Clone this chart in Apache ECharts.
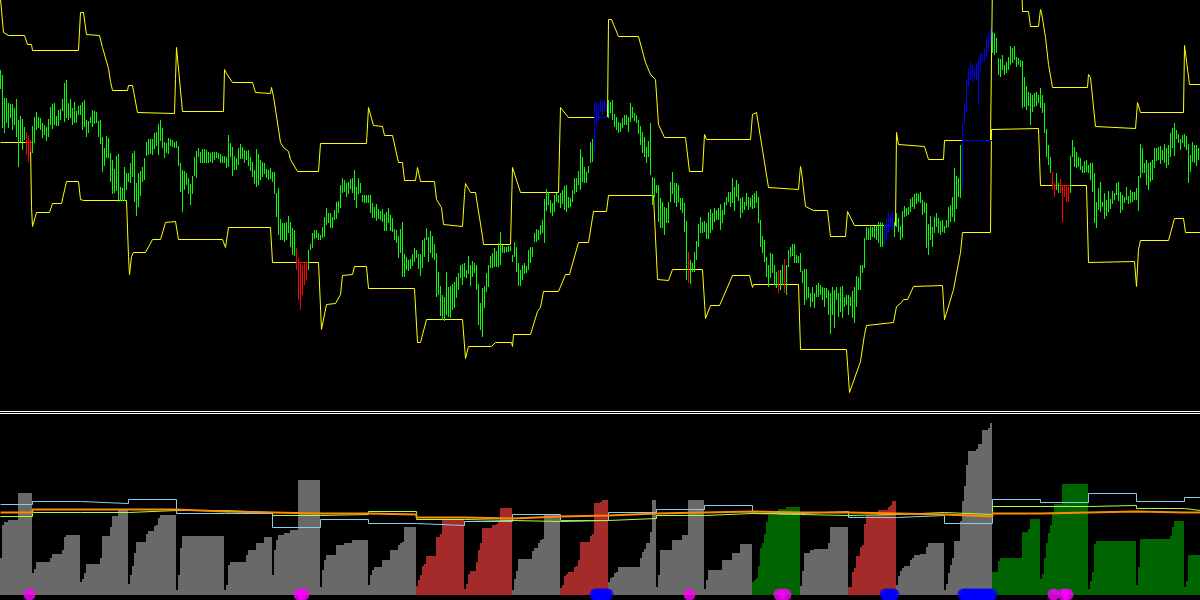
<!DOCTYPE html>
<html><head><meta charset="utf-8">
<script src="https://cdn.jsdelivr.net/npm/echarts@6.0.0/dist/echarts.min.js"></script>
<style>html,body{margin:0;padding:0;background:#000;overflow:hidden}#c{width:1200px;height:600px}</style>
</head><body><div id="c"></div>
<script>
// ---- price bars (one per hour), arbitrary price units ----
const barHigh = [
430,425,402,402,397,396,396,392,401,380, 384,381,373,368,365,360,374,383,388,383,
382,377,375,373,381,393,396,397,384,390, 391,401,417,420,397,401,392,398,389,394,
395,398,400,380,379,383,390,389,388,379, 380,363,352,364,362,347,340,331,344,346,
313,312,333,327,327,337,347,349,317,327, 329,333,342,358,361,361,361,367,368,376,
380,372,358,357,362,361,360,358,359,354, 337,330,329,327,322,316,324,343,349,352,
348,351,351,350,348,347,348,348,348,347, 346,344,344,343,365,357,353,344,342,352,
356,353,350,349,350,343,338,330,351,346, 340,338,337,331,330,332,328,328,307,312,
281,277,277,278,284,278,272,270,252,242, 238,235,237,237,250,256,267,270,270,267,
265,273,283,292,287,287,283,290,298,299, 315,322,320,317,318,321,322,330,313,322,
317,305,305,305,305,305,297,293,296,291, 289,291,286,288,292,285,282,271,270,264,
271,278,246,243,240,241,246,252,250,246, 246,260,262,272,263,269,264,256,247,228,
214,205,203,228,213,214,216,218,223,227, 235,236,237,230,244,235,239,237,235,216,
197,212,214,227,235,244,247,252,249,257, 268,255,253,253,254,254,245,258,253,237,
230,235,237,234,250,253,253,267,271,270, 275,280,301,311,308,300,297,305,307,305,
307,310,314,315,303,302,310,322,322,329, 351,343,333,328,334,358,361,398,398,396,
400,398,401,397,400,398,400,386,383,378, 377,382,385,385,383,397,393,387,385,380,
374,368,363,353,359,377,323,322,315,315, 302,298,293,292,298,318,328,317,317,315,
302,302,297,279,248,240,237,248,259,276, 283,278,279,277,288,291,287,292,290,292,
296,290,298,303,308,308,322,313,320,316, 302,303,298,307,303,302,305,307,309,303,
280,264,260,243,235,247,246,235,228,230, 230,235,241,235,250,253,256,256,245,244,
247,229,231,231,213,207,213,207,215,217, 215,213,212,212,210,207,213,210,213,207,
213,214,203,205,205,203,209,213,224,223, 235,235,262,273,272,275,273,274,275,278,
278,277,275,282,288,286,288,278,287,282, 274,289,294,292,293,301,303,306,307,306,
308,300,298,297,276,284,273,283,287,282, 279,280,274,280,293,295,303,332,324,322,
355,377,396,421,432,438,435,432,437,441, 447,446,451,463,467,472,468,467,462,442,
441,445,435,438,443,454,452,454,443,442, 440,439,423,414,408,407,405,407,408,405,
412,405,397,371,355,343,328,317,327,317, 321,314,315,315,313,344,360,353,348,343,
342,334,339,340,335,337,337,327,298,312, 318,298,307,300,309,301,309,307,317,318,
308,305,303,313,304,310,308,308,312,324, 356,352,337,340,337,338,340,352,352,353,
354,350,356,352,355,367,372,377,370,366, 361,365,366,364,356,345,358,355,355,352
];
const barLow = [
411,372,367,377,372,382,370,375,363,333, 358,350,360,345,338,348,347,357,370,372,
370,362,365,359,363,375,371,375,374,374, 380,389,378,382,380,382,375,377,377,385,
385,370,373,363,367,377,373,376,377,363, 356,328,334,342,342,318,306,307,309,298,
299,299,299,310,318,317,323,298,284,293, 304,318,320,344,345,346,345,351,354,345,
359,352,342,347,346,354,353,352,352,334, 308,288,310,315,306,295,306,324,322,343,
337,337,337,337,337,338,337,340,342,341, 337,337,337,332,333,343,324,330,330,335,
341,341,337,340,334,329,323,316,313,315, 320,323,326,322,320,321,318,306,283,265,
260,260,258,260,267,253,245,244,230,200, 190,205,215,220,230,250,252,261,262,260,
260,262,263,275,277,272,272,280,281,287, 292,307,308,303,306,311,307,300,292,306,
307,298,297,297,297,287,282,282,279,281, 280,278,269,269,277,269,268,260,257,242,
247,223,223,230,229,231,234,238,242,231, 224,232,243,260,238,247,242,240,203,205,
184,180,179,185,183,182,190,192,202,210, 222,215,223,222,226,214,223,227,210,175,
170,163,192,208,213,232,232,233,233,233, 235,247,247,248,248,249,238,243,228,214,
214,220,226,227,230,237,243,258,258,260, 265,267,257,289,295,287,284,288,298,297,
292,296,290,288,292,293,298,306,308,315, 310,318,317,317,327,337,338,348,375,380,
388,385,390,388,382,387,380,373,370,367, 368,372,375,375,368,378,382,379,377,366,
355,347,343,337,343,325,295,303,307,278, 272,272,265,277,277,298,306,297,293,298,
290,287,268,220,217,216,228,228,240,253, 267,267,268,261,261,267,270,278,280,280,
270,277,285,295,298,293,297,289,303,299, 282,287,290,294,290,293,291,292,297,277,
253,247,238,223,213,222,227,215,212,207, 210,215,207,205,233,243,244,237,237,237,
228,217,195,200,202,193,198,192,203,203, 205,200,193,202,185,166,185,172,200,183,
188,182,193,195,185,194,182,177,193,210, 210,227,232,260,260,260,263,262,260,257,
253,253,255,260,268,272,270,263,273,268, 260,262,283,284,285,288,293,291,296,298,
297,285,287,252,245,260,253,267,273,267, 265,268,267,272,273,278,283,278,291,303,
302,313,377,388,413,420,418,422,420,395, 429,438,438,443,448,455,447,445,447,425,
423,430,425,427,430,435,437,440,433,435, 433,392,393,390,394,375,388,393,394,397,
392,387,367,343,335,327,310,303,310,307, 307,278,303,298,298,307,343,333,332,333,
330,327,327,328,327,320,308,277,272,290, 288,293,281,284,288,291,296,300,305,299,
287,290,297,300,296,297,298,300,300,289, 322,327,327,315,310,318,320,332,339,340,
336,340,337,332,335,343,352,344,361,357, 350,357,353,350,317,328,338,337,334,340
];
// bars coloured as breakouts (index ranges, inclusive)
const redBarRanges = [[13,15],[148,153],[344,344],[389,389],[392,392],[526,527],[530,534]];
const blueBarRanges = [[297,303],[442,446],[481,495]];

// ---- channel lines: [bar position, price] at each turning point ----
const upperBand = [
[0,500],[1.5,467],[4,464],[12,464],[13.5,455],[15.5,455],[16,449],[39,449],[40,487],[41.5,487],[43,465],[49.5,464],
[51,452],[54,431],[55,418],[56,409],[63.5,409],[64,414],[66,414],[68.5,387],[87,386],[87.5,420],[88,452],[88.5,450],
[91,388],[111.5,388],[112,430],[113,426],[116,417],[126,417],[127.5,407],[135,406],[135.5,412],[136.5,403],[140,357],
[141.5,352],[144,348],[145,340],[148.5,328],[159,328],[160,356],[183,356],[184,392],[185,390],[186.5,374],[191,373],
[192,364],[196,364],[199,337],[201,337],[202,319],[207.5,319],[208.5,332],[210,318],[217,318],[218,300],[220.5,292],
[221.5,275],[231,273],[232,305],[232.5,316],[235,307],[237.5,307],[241,263],[241.5,255],[255,255],[256,332],[257,332],
[260,307],[279,307],[280,392],[281,392],[284,382],[303.5,382],[304,480],[305.5,480],[309,463],[319,463],[322.5,437],
[325,425],[327.5,420],[329,375],[332,362],[342.5,362],[344.5,328],[351,328],[352,365],[353,360],[375,360],[376,385],
[378,387],[384,312],[399,310],[400,333],[400.5,328],[402.5,293],[406.5,289],[413.5,289],[415,263],[422.5,263],
[423.5,288],[424,290],[427,274],[447.5,274],[448,367],[449,355],[450,353],[462,353],[464,340],[471.5,340],[472,359],
[495,359],[496,520],[510.5,520],[511,488],[514,488],[515,473],[519,473],[520,490],[520.5,487],[522.5,462],[524,435],
[526,412],[543.5,412],[544,425],[545,422],[547.5,373],[567.5,371],[568.5,397],[570,387],[591.5,387],[592,454],
[592.5,452],[594.5,415],[600,415]
];
const lowerBand = [
[0,357],[15,357],[15.5,293],[16,273],[18,287],[24.5,287],[26,296],[30.5,296],[33,318],[39,318],[40,300],[41.5,299],
[63,299],[64,243],[64.5,225],[65.5,243],[66.5,247],[72.5,247],[76,260],[80,260],[82.5,277],[87.5,278],[89,260],
[111,260],[112.5,252],[113.5,254],[114,272],[135,272],[136,237],[159,237],[160.5,170],[163,195],[167.5,196],[170,205],
[171,224],[176,225],[177,233],[183,233],[184,211],[207,211],[208.5,157],[210,157],[213,180],[231,180],[232.5,141],
[234,153],[245.5,153],[247.5,157],[255.5,157],[256,153],[256.5,165],[265,165],[268.5,188],[270,192],[271.5,208],
[279,208],[282.5,225],[284.5,225],[289,257],[294,257],[296.5,288],[303,288],[304,304],[326.5,304],[328.5,220],
[334,219],[336,230],[351,230],[352.5,181],[355,194],[359.5,194],[366,224],[374.5,224],[376,212],[376.5,215],[399,215],
[400,150],[423,150],[424.5,107],[425.5,107],[430,138],[432,165],[433,174],[446.5,177],[448,193],[450.5,197],
[451.5,200],[453.5,200],[456.5,213],[471,214],[472,180],[476.5,210],[480,247],[481,267],[495,267],[495.5,370],
[519,371],[520,314],[543,314],[544,237],[567,238],[568,213],[569,250],[570,259],[584,259],[587,281],[591.5,281],
[592.5,267],[600,267]
];
// breakout segments drawn over the channel: [from bar, to bar, price]
const blueUpperSegments = [[297,304,382],[442,447,274],[481,496,359]];
const redLowerSegments = [[12.5,16,357],[148,154,237],[526,535,314]];

// ---- lower panel: running daily range histogram ----
const histValues = [
37,70,73,73,75,75,75,75,75,102,102,102,102,102,102,102,
22,26,33,33,33,33,33,33,33,37,41,41,41,41,41,45,58,60,60,60,60,60,60,60,
13,16,22,31,31,31,31,31,31,31,37,59,59,59,59,68,79,79,79,85,85,85,85,85,
11,20,29,42,53,53,53,53,53,61,64,64,64,69,70,77,80,80,80,80,80,80,80,80,
5,20,47,59,59,59,59,59,59,59,59,59,59,59,59,59,59,59,59,59,59,59,59,59,
5,10,30,33,33,33,33,33,33,33,33,40,45,45,45,45,52,52,52,52,58,58,58,58,
20,45,55,60,60,60,62,62,62,65,65,65,65,115,115,115,115,115,115,115,115,115,115,115,
8,25,35,40,40,40,40,40,50,50,50,50,52,52,52,52,55,55,55,55,55,55,55,55,
10,20,25,28,28,28,28,35,35,35,35,45,45,45,45,50,52,53,68,68,68,68,68,68,
9,15,20,29,31,39,39,39,39,39,58,58,61,76,76,76,76,76,76,76,76,76,76,76,
6,11,21,24,24,24,33,45,52,67,67,67,67,67,70,70,71,73,87,87,87,87,87,87,
5,16,24,36,36,36,36,36,36,36,44,47,47,52,55,56,81,81,81,81,81,81,81,81,
7,10,19,21,23,23,23,28,29,35,53,53,53,53,53,59,61,92,92,92,93,95,95,95,
13,17,18,22,23,28,28,28,28,28,28,28,28,28,28,28,37,43,46,52,52,63,95,95,
8,20,45,45,45,45,45,45,55,55,55,55,55,60,60,60,95,95,95,95,95,95,95,95,
6,15,25,25,25,25,25,25,25,35,35,35,35,35,42,42,42,42,51,51,51,51,51,51,
13,15,17,29,47,52,61,73,80,80,80,80,80,86,86,86,86,88,88,88,88,88,88,88,
9,24,42,42,42,45,45,46,46,46,46,46,46,46,52,68,68,68,68,68,68,68,68,68,
8,8,23,27,39,39,48,50,71,80,80,80,80,80,80,85,85,85,85,85,88,90,94,94,
10,19,24,27,29,29,29,35,37,40,40,40,41,41,41,48,52,52,52,52,52,52,52,52,
5,11,22,30,37,54,54,54,74,94,109,130,144,144,144,144,146,151,151,165,165,165,167,172,
23,23,23,34,37,37,37,37,37,37,37,37,37,37,37,63,63,63,66,76,76,76,76,76,
16,21,37,52,62,70,82,91,91,91,91,111,111,111,111,111,111,111,111,111,111,111,111,111,
6,14,23,51,54,54,54,54,54,54,54,54,54,54,54,54,54,54,54,54,54,54,54,54,
10,28,56,56,56,56,56,56,56,56,56,56,56,56,56,56,56,59,68,74,74,74,74,74,
8,14,40,40,40,40,40,40
];
const dayStarts = [0,16,40,64,88,112,136,160,184,208,232,256,280,304,328,352,376,400,424,448,472,496,520,544,568,592];
// 0 = neutral (grey), 1 = bearish (brown), 2 = bullish (dark green)
const dayState = [0,0,0,0,0,0,0,0,0,1,1,0,1,0,0,0,2,0,1,0,0,2,2,2,2,2];
// average range levels per day
const avgRangeA = [90,93,91,95,81,81,67,75,71,69,73,80,74,82,85,89,81,83,77,79,71,95,92,101,93,97];
const avgRangeB = [82,85,85,85,83,82,81,81,80,77,76,78,79,81,82,83,82,82,81,80,78,81,82,83,82,82];
const avgRangeC = [78,82,82,84,84,82,79,80,83,75,74,73,74,76,79,81,80,79,80,82,80,88,88,89,86,84];
// signal markers (bar index)
const magentaDots = [14,149,151,344,389,392,526,531,533];
const blueDots = [297,298,299,300,301,302,303,442,443,444,445,446,481,482,483,484,485,486,487,488,489,490,491,492,493,494,495];

// ---------------------------------------------------------------
const barPalette = ['#00ff00','#ff0000','#0000ff'];
const histPalette = ['#696969','#a52a2a','#006400'];
function barState(i){
  for (const r of redBarRanges) if (i>=r[0] && i<=r[1]) return 1;
  for (const r of blueBarRanges) if (i>=r[0] && i<=r[1]) return 2;
  return 0;
}
function dayOf(i){ let d=0; for (let k=0;k<dayStarts.length;k++) if (i>=dayStarts[k]) d=k; return d; }
const priceData = barHigh.map((h,i)=>[i, barLow[i], h, barState(i)]);
const histData = histValues.map((v,i)=>[i, v, dayState[dayOf(i)]]);
const segData = blueUpperSegments.map(s=>[s[0],s[1],s[2],2]).concat(redLowerSegments.map(s=>[s[0],s[1],s[2],1]));
function stepData(vals){ const d = dayStarts.map((s,k)=>[s, vals[k]]); d.push([600, vals[vals.length-1]]); return d; }

const chart = echarts.init(document.getElementById('c'), null, {renderer:'canvas', width:1200, height:600});
chart.setOption({
  backgroundColor:'#000000',
  animation:false,
  grid:[{left:0,right:0,top:0,height:411},{left:0,right:0,top:413,height:182}],
  xAxis:[
    {type:'value',gridIndex:0,min:-0.25,max:599.75,show:false},
    {type:'value',gridIndex:1,min:-0.25,max:599.75,show:false}
  ],
  yAxis:[
    {type:'value',gridIndex:0,min:88.5,max:499.5,show:false},
    {type:'value',gridIndex:1,min:-0.5,max:181.5,show:false}
  ],
  graphic:[
    {type:'rect',shape:{x:0,y:411,width:1200,height:1},style:{fill:'#ffffff'},z:100},
    {type:'rect',shape:{x:0,y:413,width:1200,height:1},style:{fill:'#ffffff'},z:100}
  ],
  series:[
    {type:'line',xAxisIndex:0,yAxisIndex:0,data:upperBand,symbol:'none',lineStyle:{color:'#ffff00',width:1},z:2},
    {type:'line',xAxisIndex:0,yAxisIndex:0,data:lowerBand,symbol:'none',lineStyle:{color:'#ffff00',width:1},z:2},
    {type:'custom',xAxisIndex:0,yAxisIndex:0,data:segData,encode:{x:[0,1],y:2},z:3,
      renderItem:function(p,api){
        const a=api.coord([api.value(0),api.value(2)]), b=api.coord([api.value(1),api.value(2)]);
        return {type:'line',shape:{x1:a[0],y1:a[1],x2:b[0],y2:b[1]},style:{stroke:barPalette[api.value(3)],lineWidth:1}};
      }},
    {type:'custom',xAxisIndex:0,yAxisIndex:0,data:priceData,encode:{x:0,y:[1,2]},z:4,
      renderItem:function(p,api){
        const i=api.value(0);
        const t=api.coord([i,api.value(2)]), b=api.coord([i,api.value(1)]);
        const y1=Math.round(t[1]), y2=Math.round(b[1]);
        return {type:'rect',shape:{x:Math.floor(t[0]),y:y1,width:1,height:Math.max(1,y2-y1)},style:{fill:barPalette[api.value(3)]}};
      }},
    {type:'custom',xAxisIndex:1,yAxisIndex:1,data:histData,encode:{x:0,y:1},z:2,
      renderItem:function(p,api){
        const i=api.value(0), v=api.value(1);
        const a=api.coord([i,v]), b=api.coord([i+1,0]);
        const x1=Math.floor(a[0]), x2=Math.floor(b[0]), y1=Math.round(a[1]), y2=Math.round(b[1]);
        return {type:'rect',shape:{x:x1,y:y1,width:x2-x1,height:y2-y1},style:{fill:histPalette[api.value(2)]}};
      }},
    {type:'line',xAxisIndex:1,yAxisIndex:1,data:stepData(avgRangeA),step:'end',symbol:'none',lineStyle:{color:'#87ceeb',width:1},z:5},
    {type:'line',xAxisIndex:1,yAxisIndex:1,data:stepData(avgRangeC),step:'end',symbol:'none',lineStyle:{color:'#adff2f',width:1},z:5},
    {type:'line',xAxisIndex:1,yAxisIndex:1,data:stepData(avgRangeB),step:'end',symbol:'none',lineStyle:{color:'#ff8c00',width:2},z:6},
    {type:'scatter',xAxisIndex:1,yAxisIndex:1,data:magentaDots.map(i=>[i+0.5,0]),symbol:'circle',symbolSize:12,clip:false,itemStyle:{color:'#ff00ff'},z:8},
    {type:'scatter',xAxisIndex:1,yAxisIndex:1,data:blueDots.map(i=>[i+0.5,0]),symbol:'circle',symbolSize:12,clip:false,itemStyle:{color:'#0000ff'},z:8}
  ]
});
</script>
</body></html>
